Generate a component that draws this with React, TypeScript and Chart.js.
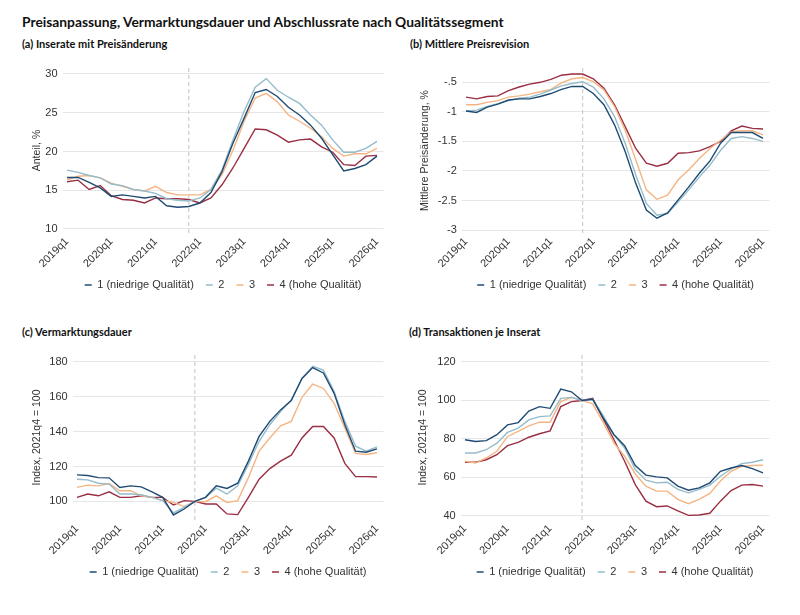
import React, { useEffect, useRef } from "react";
import { Chart, registerables } from "chart.js";

Chart.register(...registerables);

// x-axis: quarters 2019q1 .. 2026q1
const quarters = [
  "2019q1", "2019q2", "2019q3", "2019q4",
  "2020q1", "2020q2", "2020q3", "2020q4",
  "2021q1", "2021q2", "2021q3", "2021q4",
  "2022q1", "2022q2", "2022q3", "2022q4",
  "2023q1", "2023q2", "2023q3", "2023q4",
  "2024q1", "2024q2", "2024q3", "2024q4",
  "2025q1", "2025q2", "2025q3", "2025q4",
  "2026q1",
];
const xTickIdx = [0, 4, 8, 12, 16, 20, 24, 28];
const refIdx = 11; // 2021q4, dashed line

const seriesNames = ["1 (niedrige Qualität)", "2", "3", "4 (hohe Qualität)"];
const seriesColors = ["#1f4b73", "#95bccb", "#f5b583", "#9a2e42"];

// (a) Inserate mit Preisänderung, Anteil %
const a1 = [16.65, 16.65, 16.0, 15.3, 14.2, 14.4, 14.2, 14.0, 14.2, 13.0, 12.8, 12.9, 13.35, 14.7, 17.4, 21.1, 24.3, 27.6, 28.0, 27.1, 25.7, 24.7, 23.4, 21.7, 19.6, 17.5, 17.8, 18.3, 19.4];
const a2 = [17.6, 17.3, 16.9, 16.6, 15.8, 15.6, 15.1, 14.9, 14.6, 13.9, 13.7, 13.6, 14.0, 15.1, 17.6, 21.5, 25.2, 28.3, 29.4, 27.9, 27.0, 26.2, 24.7, 23.4, 21.5, 19.9, 19.9, 20.4, 21.3];
const a3 = [16.35, 16.8, 16.9, 16.6, 15.9, 15.5, 15.1, 14.9, 15.5, 14.7, 14.4, 14.4, 14.4, 15.1, 17.0, 20.2, 23.9, 26.9, 27.5, 26.4, 24.7, 23.9, 23.0, 21.9, 20.4, 19.4, 19.7, 19.7, 20.4];
const a4 = [16.1, 16.3, 15.1, 15.6, 14.3, 13.8, 13.7, 13.35, 14.0, 13.9, 13.9, 13.8, 13.35, 14.0, 15.7, 17.9, 20.4, 22.9, 22.8, 22.1, 21.2, 21.5, 21.6, 20.6, 19.9, 18.3, 18.2, 19.4, 19.5];
const aTicks = [10, 15, 20, 25, 30];
const aTickLabels = ["10", "15", "20", "25", "30"];

// (b) Mittlere Preisrevision, %
const b1 = [-0.985, -1.01, -0.92, -0.87, -0.8, -0.78, -0.78, -0.74, -0.69, -0.62, -0.57, -0.57, -0.69, -0.88, -1.22, -1.67, -2.21, -2.66, -2.8, -2.71, -2.49, -2.27, -2.04, -1.83, -1.53, -1.35, -1.35, -1.35, -1.45];
const b2 = [-0.985, -0.97, -0.91, -0.86, -0.81, -0.77, -0.75, -0.7, -0.63, -0.56, -0.52, -0.49, -0.58, -0.78, -1.08, -1.53, -2.07, -2.55, -2.75, -2.72, -2.52, -2.32, -2.1, -1.9, -1.65, -1.45, -1.42, -1.45, -1.5];
const b3 = [-0.88, -0.88, -0.84, -0.81, -0.75, -0.73, -0.7, -0.66, -0.62, -0.51, -0.44, -0.42, -0.49, -0.63, -0.91, -1.31, -1.81, -2.32, -2.48, -2.41, -2.15, -1.98, -1.79, -1.62, -1.48, -1.34, -1.32, -1.32, -1.39];
const b4 = [-0.75, -0.78, -0.74, -0.73, -0.64, -0.58, -0.53, -0.5, -0.45, -0.38, -0.36, -0.36, -0.44, -0.6, -0.88, -1.25, -1.62, -1.87, -1.92, -1.87, -1.7, -1.69, -1.66, -1.59, -1.5, -1.32, -1.24, -1.28, -1.29];
const bTicks = [-3, -2.5, -2, -1.5, -1, -0.5];
const bTickLabels = ["-3", "-2.5", "-2", "-1.5", "-1", "-.5"];

// (c) Vermarktungsdauer, Index 2021q4 = 100
const c1 = [115.2, 114.8, 113.6, 113.5, 108, 108.9, 108.3, 105.5, 102.3, 92.2, 95.6, 100, 102.3, 108.9, 107.4, 110.4, 123.1, 137.3, 145.9, 152.5, 157.8, 170.5, 176.8, 173.7, 162, 144, 128.8, 128.2, 130.1];
const c2 = [112.7, 112.3, 110.4, 109.9, 104.2, 104.2, 103.8, 102.3, 100.4, 93.4, 96.6, 100, 102.3, 107.6, 104.2, 108.9, 121.2, 134.5, 144, 151.6, 158.2, 170.5, 177.5, 175.3, 163, 145.9, 131.7, 128.8, 131.3];
const c3 = [108, 109.3, 108.9, 110.2, 106.1, 106.1, 103.2, 102.3, 100.4, 99.4, 97, 100, 99.8, 103.2, 99.4, 100.4, 113.6, 128.8, 136.4, 143.4, 145.9, 159.7, 167.3, 164.8, 156.3, 142.1, 127.5, 126.9, 127.9];
const c4 = [102.3, 104.2, 103.2, 105.5, 102.3, 102.3, 103.2, 102.3, 102.3, 97.9, 100.4, 100, 98.5, 98.5, 92.8, 92.4, 102.3, 112.7, 118.8, 123.1, 126.5, 136.4, 143, 143, 136.4, 121.8, 114.2, 114.2, 114];
const cTicks = [100, 120, 140, 160, 180];
const cTickLabels = ["100", "120", "140", "160", "180"];

// (d) Transaktionen je Inserat, Index 2021q4 = 100
const d1 = [79.6, 78.7, 79.1, 82.2, 87.3, 88.5, 94.5, 96.8, 95.9, 105.9, 104.5, 100, 100.6, 90.8, 82.2, 76.5, 66.2, 61.2, 60.3, 59.8, 55.5, 53.4, 54.6, 57.2, 63.2, 64.9, 66.2, 64.6, 62.4];
const d2 = [72.7, 72.7, 74.4, 77.8, 83.4, 85.6, 89.9, 91.6, 92, 101.1, 101.6, 100, 100.6, 92, 82.2, 75.3, 64.1, 58.6, 57.2, 57.5, 53.8, 52, 53.8, 56, 60.6, 64.4, 67.2, 67.9, 69.2];
const d3 = [68.4, 67.5, 70.1, 73.6, 81.3, 83.9, 86.8, 88.7, 88.7, 99.4, 101.6, 100, 98.2, 88.5, 77.8, 71, 61.8, 55.5, 52.9, 52.9, 48.6, 46.4, 48.6, 51.7, 58.1, 63.2, 65.8, 66.2, 66.3];
const d4 = [67.9, 67.9, 69.2, 71.8, 76.5, 78.2, 80.9, 82.7, 84.2, 96.8, 99.4, 100, 101.1, 90.2, 79.6, 68.4, 56.3, 47.7, 44.8, 45.2, 42.6, 40.3, 40.5, 41.4, 47.7, 53.2, 56, 56.3, 55.5];
const dTicks = [40, 60, 80, 100, 120];
const dTickLabels = ["40", "60", "80", "100", "120"];

const FONT = "'Liberation Sans', Arial, sans-serif";
const TITLE_FONT = "Lato, 'Open Sans', sans-serif";
const TXT = "#333333";
const FS = 11;

// dashed vertical reference line at 2021q4
const refLinePlugin = {
  id: "refLine",
  beforeDatasetsDraw(chart: any, _args: any, opts: any) {
    const { ctx, chartArea } = chart;
    const x = chart.scales.x.getPixelForValue(opts.value);
    ctx.save();
    ctx.strokeStyle = "#c4c4c4";
    ctx.lineWidth = 1;
    ctx.setLineDash([4, 3]);
    ctx.beginPath();
    ctx.moveTo(x, chartArea.top);
    ctx.lineTo(x, chartArea.bottom + 3);
    ctx.stroke();
    ctx.restore();
  },
};

type PanelProps = {
  left: number;
  top: number;
  series: number[][];
  yMin: number;
  yMax: number;
  yTicks: number[];
  yTickLabels: string[];
  yTitle: string;
  yAxisW: number;
  yTitleX: number;
  padRight: number;
};

const CANVAS_W = 400;
const CANVAS_H = 250;
const PLOT_TOP = 13;
const PLOT_H = 165;
const LEGEND_CENTER = 230;
const LEG_PAD = 12;

const Panel = (p: PanelProps) => {
  const canvasRef = useRef<HTMLCanvasElement | null>(null);
  const chartRef = useRef<Chart | null>(null);

  useEffect(() => {
    if (!canvasRef.current) return;
    if (chartRef.current) chartRef.current.destroy();

    const legendTop = LEGEND_CENTER - LEG_PAD - FS / 2;
    const legendH = FS + LEG_PAD + 10;
    const xAxisH = legendTop - (PLOT_TOP + PLOT_H);
    const padBottom = CANVAS_H - (legendTop + legendH);

    chartRef.current = new Chart(canvasRef.current, {
      type: "line",
      data: {
        datasets: p.series.map((vals, s) => ({
          label: seriesNames[s],
          data: vals.map((v, i) => ({ x: i, y: v })),
          borderColor: seriesColors[s],
          backgroundColor: seriesColors[s],
          borderWidth: 1.4,
          pointRadius: 0,
          tension: 0,
        })),
      },
      options: {
        responsive: true,
        maintainAspectRatio: false,
        animation: false,
        layout: {
          padding: { top: PLOT_TOP, left: 0, right: p.padRight, bottom: padBottom },
        },
        scales: {
          x: {
            type: "linear",
            min: -0.4,
            max: 28.6,
            grid: { display: false, drawTicks: false },
            border: { display: false },
            afterBuildTicks: (scale: any) => {
              scale.ticks = xTickIdx.map((v) => ({ value: v }));
            },
            afterFit: (scale: any) => {
              scale.height = xAxisH;
            },
            ticks: {
              autoSkip: false,
              maxRotation: 45,
              minRotation: 45,
              padding: 2,
              color: TXT,
              font: { family: FONT, size: FS },
              callback: (v: any) => quarters[v],
            },
          },
          y: {
            min: p.yMin,
            max: p.yMax,
            grid: { color: "#e6e6e6", lineWidth: 1, drawTicks: false },
            border: { display: false },
            afterBuildTicks: (scale: any) => {
              scale.ticks = p.yTicks.map((v) => ({ value: v }));
            },
            afterFit: (scale: any) => {
              scale.width = p.yAxisW;
            },
            ticks: {
              padding: 5,
              color: TXT,
              font: { family: FONT, size: FS },
              callback: (v: any) => p.yTickLabels[p.yTicks.indexOf(v)],
            },
            title: {
              display: true,
              text: p.yTitle,
              color: TXT,
              font: { family: FONT, size: 10.5 },
              padding: { top: p.yTitleX - 6.3, bottom: 0 },
            },
          },
        },
        plugins: {
          refLine: { value: refIdx },
          tooltip: { enabled: false },
          legend: {
            position: "bottom",
            fullSize: false,
            labels: {
              usePointStyle: true,
              pointStyle: "line",
              pointStyleWidth: 7,
              padding: LEG_PAD,
              color: TXT,
              font: { family: FONT, size: FS },
            },
          },
        },
      } as any,
      plugins: [refLinePlugin],
    });

    return () => {
      if (chartRef.current) {
        chartRef.current.destroy();
        chartRef.current = null;
      }
    };
  }, []);

  return (
    <div
      style={{
        position: "absolute",
        left: p.left,
        top: p.top,
        width: CANVAS_W,
        height: CANVAS_H,
      }}
    >
      <canvas ref={canvasRef} />
    </div>
  );
};

const titleStyle = (left: number, top: number, size: number): React.CSSProperties => ({
  position: "absolute",
  left,
  top,
  fontFamily: TITLE_FONT,
  fontWeight: 700,
  fontSize: size,
  lineHeight: 1,
  color: "#111",
  whiteSpace: "nowrap",
});

export default function App() {
  return (
    <div
      style={{
        position: "absolute",
        left: 0,
        top: 0,
        width: 800,
        height: 615,
        background: "#fff",
        overflow: "hidden",
      }}
    >
      <div style={titleStyle(22, 15, 13.8)}>
        Preisanpassung, Vermarktungsdauer und Abschlussrate nach Qualitätssegment
      </div>
      <div style={titleStyle(22, 38, 11)}>(a) Inserate mit Preisänderung</div>
      <div style={titleStyle(410, 38, 11)}>(b) Mittlere Preisrevision</div>
      <div style={titleStyle(22, 326, 11)}>(c) Vermarktungsdauer</div>
      <div style={titleStyle(409, 326, 11)}>(d) Transaktionen je Inserat</div>

      <Panel
        left={0}
        top={55}
        series={[a1, a2, a3, a4]}
        yMin={9.48}
        yMax={30.77}
        yTicks={aTicks}
        yTickLabels={aTickLabels}
        yTitle="Anteil, %"
        yAxisW={62.6}
        yTitleX={37}
        padRight={16.4}
      />
      <Panel
        left={400}
        top={55}
        series={[b1, b2, b3, b4]}
        yMin={-3.05}
        yMax={-0.258}
        yTicks={bTicks}
        yTickLabels={bTickLabels}
        yTitle="Mittlere Preisänderung, %"
        yAxisW={61.8}
        yTitleX={25}
        padRight={30.6}
      />
      <Panel
        left={0}
        top={342}
        series={[c1, c2, c3, c4]}
        yMin={89.3}
        yMax={184}
        yTicks={cTicks}
        yTickLabels={cTickLabels}
        yTitle="Index, 2021q4 = 100"
        yAxisW={72.7}
        yTitleX={37}
        padRight={16.6}
      />
      <Panel
        left={400}
        top={342}
        series={[d1, d2, d3, d4]}
        yMin={37.9}
        yMax={123.6}
        yTicks={dTicks}
        yTickLabels={dTickLabels}
        yTitle="Index, 2021q4 = 100"
        yAxisW={60.7}
        yTitleX={23}
        padRight={30.6}
      />
    </div>
  );
}
